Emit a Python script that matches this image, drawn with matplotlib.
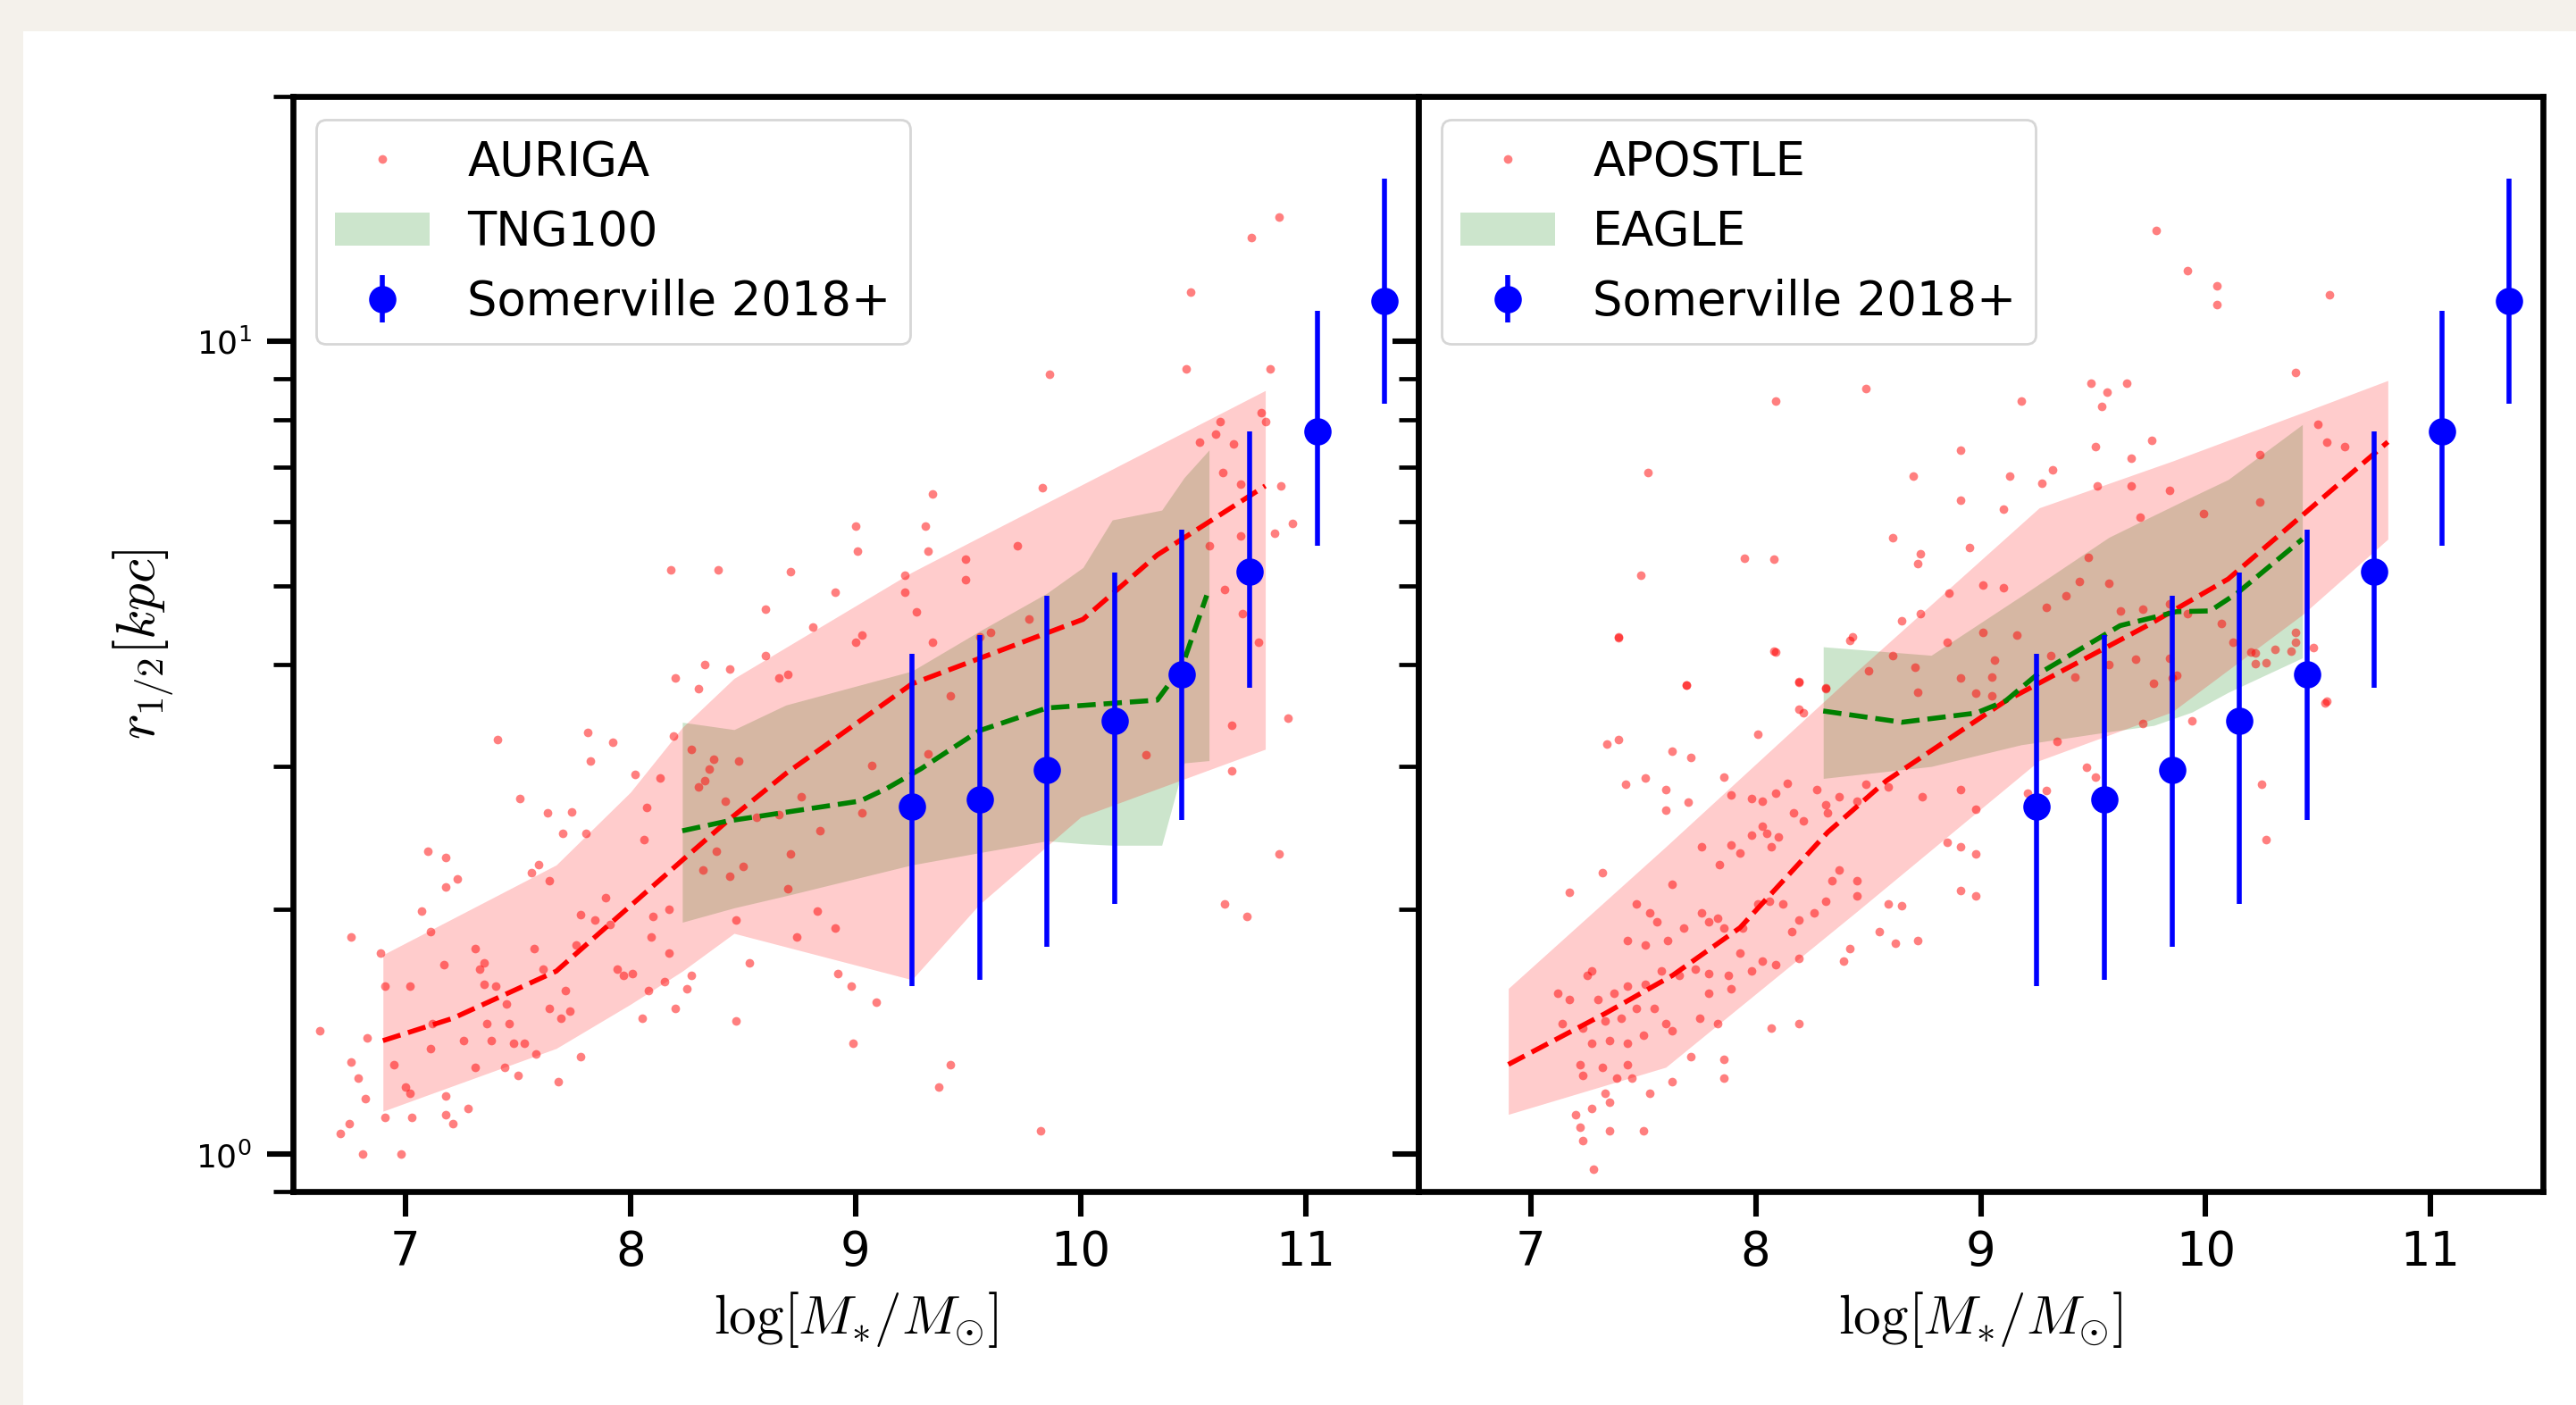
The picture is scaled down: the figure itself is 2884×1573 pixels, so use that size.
import matplotlib
matplotlib.use('Agg')
import matplotlib.pyplot as plt
from matplotlib.patches import Rectangle, Patch
from matplotlib.lines import Line2D

plt.rcParams['font.family'] = ['DejaVu Sans']
plt.rcParams['mathtext.fontset'] = 'cm'

# Somerville 2018+ points (same in both panels)
som_x = [9.25, 9.55, 9.85, 10.15, 10.45, 10.75, 11.05, 11.35]
som_r = [2.68, 2.73, 2.97, 3.41, 3.89, 5.21, 7.74, 11.2]
som_lo = [1.61, 1.64, 1.80, 2.03, 2.58, 3.75, 5.61, 8.38]
som_hi = [4.13, 4.35, 4.86, 5.19, 5.86, 7.74, 10.9, 15.85]

# AURIGA galaxies (left panel)
aur_x = [6.62, 6.76, 6.76, 6.79, 6.81, 6.82, 6.71, 6.75, 6.83, 6.89, 6.91, 6.91, 6.98, 6.95,
         7.00, 7.02, 7.02, 7.03, 7.07, 7.10, 7.11, 7.11, 7.12, 7.17, 7.18, 7.18, 7.18, 7.18,
         7.21, 7.23, 7.26, 7.28, 7.31, 7.31, 7.33, 7.35, 7.35, 7.36, 7.38, 7.40, 7.41, 7.44,
         7.45, 7.46, 7.48, 7.50, 7.51, 7.53, 7.56, 7.57, 7.58, 7.59, 7.61, 7.63, 7.64, 7.64,
         7.68, 7.69, 7.70, 7.71, 7.73, 7.74, 7.76, 7.78, 7.78, 7.80, 7.81, 7.82, 7.84, 7.89,
         7.91, 7.92, 7.94, 7.97, 8.01, 8.02, 8.05, 8.06, 8.07, 8.08, 8.09, 8.10, 8.13, 8.15,
         8.17, 8.19, 8.20, 8.17, 8.25, 8.27, 8.27, 8.30, 8.32, 8.33, 8.35, 8.37, 8.38, 8.42,
         8.44, 8.47, 8.47, 8.48, 8.50, 8.53, 8.56, 8.66, 8.70, 8.71, 8.74, 8.76, 8.83, 8.84,
         8.91, 8.92, 8.98, 8.99, 9.03, 9.07, 9.09, 9.22, 9.32, 9.37, 9.42, 9.42, 9.82, 10.29,
         10.64, 10.67, 10.67, 10.74, 10.88, 10.92,
         10.88, 10.76, 10.49, 9.86, 10.47, 10.84, 9.83, 9.34, 9.00, 9.31, 9.01, 9.32, 9.72,
         10.62, 10.60, 10.68, 10.80, 10.82, 10.53, 10.63, 10.71, 10.89, 10.94, 10.86, 10.71,
         9.49, 9.49, 9.22, 9.22, 8.91, 8.71, 8.60, 9.27, 8.18, 8.39, 8.81, 9.03, 9.00, 9.77,
         9.60, 10.64, 10.72, 10.79, 8.60, 8.33, 8.44, 8.20, 8.30, 8.66, 8.70, 9.34, 9.55, 10.57]
aur_r = [1.42, 1.85, 1.30, 1.24, 1.00, 1.17, 1.06, 1.09, 1.39, 1.77, 1.61, 1.11, 1.00, 1.29,
         1.21, 1.61, 1.19, 1.11, 1.99, 2.36, 1.88, 1.35, 1.45, 1.71, 2.32, 2.13, 1.18, 1.12,
         1.09, 2.18, 1.38, 1.14, 1.28, 1.79, 1.69, 1.62, 1.72, 1.45, 1.38, 1.61, 3.24, 1.28,
         1.53, 1.45, 1.37, 1.25, 2.74, 1.37, 2.22, 1.79, 1.33, 2.27, 1.69, 2.63, 1.51, 2.17,
         1.23, 1.47, 2.48, 1.59, 1.50, 2.64, 1.81, 1.32, 1.97, 2.48, 3.30, 3.05, 1.94, 2.07,
         1.92, 3.21, 1.69, 1.66, 1.67, 2.93, 1.47, 2.44, 2.67, 1.59, 1.85, 1.96, 2.90, 1.63,
         2.00, 3.27, 1.51, 1.77, 1.60, 1.66, 3.15, 2.83, 2.24, 2.88, 2.98, 3.06, 2.36, 2.72,
         2.20, 1.46, 1.94, 3.05, 2.26, 1.72, 2.60, 2.62, 2.12, 2.34, 1.85, 2.75, 1.99, 2.50,
         1.90, 1.67, 1.61, 1.37, 2.63, 3.01, 1.54, 2.63, 3.11, 1.21, 1.29, 3.66, 1.07, 3.10,
         2.03, 3.37, 2.96, 1.96, 2.34, 3.44,
         14.2, 13.4, 11.5, 9.10, 9.25, 9.25, 6.61, 6.49, 5.93, 5.93, 5.52, 5.52, 5.61,
         7.96, 7.69, 7.48, 8.18, 7.96, 7.52, 6.90, 6.68, 6.64, 5.97, 5.80, 5.77,
         5.39, 5.09, 5.15, 4.92, 4.92, 5.21, 4.68, 4.65, 5.24, 5.24, 4.45, 4.35, 4.26, 4.55,
         4.38, 4.95, 4.63, 4.26, 4.11, 4.00, 3.95, 3.85, 3.74, 3.85, 3.89, 4.26, 4.33, 5.61]

# AURIGA 1-sigma band and median
aur_bx = [6.9, 7.67, 8.0, 8.23, 8.46, 9.25, 9.55, 10.0, 10.82]
aur_blo = [1.13, 1.35, 1.53, 1.68, 1.87, 1.64, 2.03, 2.60, 3.15]
aur_bhi = [1.76, 2.27, 2.79, 3.35, 3.85, 5.20, 5.74, 6.65, 8.70]
aur_mx = [6.9, 7.21, 7.67, 7.87, 8.23, 8.43, 8.69, 9.25, 10.01, 10.34, 10.82]
aur_mr = [1.38, 1.47, 1.68, 1.88, 2.30, 2.57, 2.94, 3.79, 4.55, 5.46, 6.64]

# TNG100 band and median
tng_bx = [8.23, 8.46, 8.69, 9.25, 9.55, 9.85, 10.01, 10.14, 10.36, 10.46, 10.57]
tng_blo = [1.93, 2.01, 2.08, 2.27, 2.35, 2.43, 2.41, 2.40, 2.40, 3.03, 3.05]
tng_bhi = [3.40, 3.33, 3.57, 3.93, 4.40, 4.90, 5.27, 6.03, 6.20, 6.80, 7.35]
tng_mx = [8.23, 8.43, 9.02, 9.14, 9.29, 9.55, 9.85, 10.34, 10.45, 10.56]
tng_mr = [2.50, 2.57, 2.72, 2.82, 2.98, 3.32, 3.54, 3.62, 3.98, 4.87]

# APOSTLE galaxies (right panel)
apo_x = [7.39, 8.09, 7.69, 8.19, 8.31, 8.42, 7.39, 7.34, 7.42, 7.51, 7.60, 7.63, 7.71, 7.60,
         7.70, 8.01, 7.86, 7.89, 7.98, 8.03, 8.09, 8.14, 8.19, 8.21, 8.27, 8.31, 8.32, 8.37,
         8.45, 8.49, 8.59, 8.74, 8.91, 8.98, 8.17, 8.21, 8.03, 7.98, 8.05, 8.10, 8.07, 7.89,
         7.93, 7.84, 7.76, 7.63, 7.32, 7.17, 7.47, 7.53, 7.56, 7.43, 7.51, 7.61, 7.68, 7.76,
         7.79, 7.83, 7.86, 7.94, 8.01, 8.06, 8.12, 8.19, 8.16, 8.26, 8.31, 8.34, 8.37, 8.45,
         8.45, 8.59, 8.65, 8.91, 8.98, 8.85, 8.91, 8.98, 8.55, 8.62, 8.72, 8.42, 8.39, 8.19,
         8.09, 8.03, 7.98, 7.93, 7.88, 7.79, 7.73, 7.66, 7.58, 7.51, 7.43, 7.37, 7.30, 7.27,
         7.25, 7.17, 7.12, 7.14, 7.23, 7.33, 7.40, 7.47, 7.55, 7.60, 7.63, 7.50, 7.43, 7.35,
         7.27, 7.22, 7.23, 7.32, 7.38, 7.33, 7.45, 7.53, 7.43, 7.35, 7.27, 7.20, 7.22, 7.23,
         7.35, 7.50, 7.28, 7.63, 7.86, 7.86, 7.75, 7.71, 8.07, 8.19, 7.83, 7.89, 7.79,
         8.98, 9.05, 9.21, 9.29, 9.34, 9.47, 9.51, 9.72, 9.84, 9.87, 9.94, 10.25, 10.27, 10.53,
         10.20, 10.31, 10.22, 10.40, 10.48,
         9.78, 9.92, 10.05, 10.05, 10.55, 10.40, 9.49, 9.56, 9.65, 9.54, 8.49, 8.09, 9.18, 7.52,
         8.91, 8.70, 9.13, 9.32, 9.27, 9.67, 9.76, 9.51, 10.24, 10.50, 10.54, 10.62, 9.84, 9.67,
         9.52, 8.91, 9.10, 8.61, 7.95, 8.08, 8.73, 8.95, 8.72, 9.48, 7.49, 9.71, 9.99, 10.24,
         9.84, 9.01, 9.10, 8.86, 8.73, 8.65, 9.57, 9.44, 9.38, 9.29, 9.62, 9.72, 9.92, 10.07,
         10.22, 10.27, 10.38, 10.40, 10.12, 8.43, 8.08, 7.39, 8.61, 8.85, 9.01, 9.06, 9.16, 9.31,
         9.42, 9.57, 9.69, 9.77, 9.85, 8.91, 8.71, 7.69, 8.19, 8.31, 8.50, 8.72, 9.05, 10.54]
apo_r = [4.32, 4.15, 3.78, 3.81, 3.75, 4.29, 3.24, 3.20, 2.85, 2.90, 2.81, 3.13, 3.08, 2.65,
         2.71, 3.29, 2.91, 2.77, 2.74, 2.72, 2.78, 2.86, 3.53, 3.49, 2.81, 2.69, 2.63, 2.75,
         2.72, 2.85, 2.83, 2.75, 2.81, 2.66, 2.63, 2.57, 2.53, 2.47, 2.48, 2.46, 2.39, 2.40,
         2.35, 2.27, 2.39, 2.15, 2.22, 2.10, 2.03, 1.98, 1.93, 1.83, 1.81, 1.83, 1.90, 1.98,
         1.93, 1.95, 1.90, 1.90, 2.03, 2.05, 2.03, 1.94, 1.88, 1.98, 2.05, 2.17, 2.24, 2.08,
         2.17, 2.03, 2.02, 2.11, 2.08, 2.42, 2.39, 2.34, 1.88, 1.82, 1.83, 1.79, 1.73, 1.74,
         1.71, 1.73, 1.68, 1.77, 1.66, 1.67, 1.69, 1.66, 1.68, 1.62, 1.61, 1.58, 1.55, 1.68,
         1.66, 1.55, 1.58, 1.45, 1.43, 1.46, 1.47, 1.51, 1.51, 1.45, 1.42, 1.40, 1.37, 1.38,
         1.37, 1.29, 1.25, 1.28, 1.24, 1.19, 1.24, 1.19, 1.29, 1.16, 1.14, 1.12, 1.08, 1.04,
         1.07, 1.07, 0.96, 1.23, 1.31, 1.24, 1.47, 1.32, 1.43, 1.45, 1.45, 1.60, 1.58,
         3.69, 3.86, 2.78, 2.80, 3.22, 2.99, 2.91, 3.39, 4.08, 3.88, 3.41, 2.85, 2.44, 3.59,
         4.15, 4.18, 4.01, 4.27, 4.20,
         13.7, 12.2, 11.7, 11.1, 11.4, 9.16, 8.89, 8.65, 8.89, 8.32, 8.75, 8.45, 8.45, 6.89,
         7.35, 6.82, 6.82, 6.95, 6.69, 7.18, 7.55, 7.43, 7.26, 7.91, 7.52, 7.43, 6.56, 6.64,
         6.64, 6.38, 6.21, 5.74, 5.41, 5.39, 5.48, 5.57, 5.33, 5.42, 5.15, 6.07, 6.14, 6.35,
         4.76, 5.01, 4.98, 4.90, 4.63, 4.53, 5.04, 5.07, 4.87, 4.71, 4.66, 4.68, 4.63, 4.50,
         4.14, 4.02, 4.16, 4.38, 4.26, 4.33, 4.16, 4.33, 4.11, 4.26, 4.38, 4.05, 4.35, 4.11,
         3.86, 4.00, 4.06, 3.80, 3.85, 3.85, 3.97, 3.78, 3.82, 3.74, 3.93, 3.70, 3.66, 3.61]

# APOSTLE band and median
apo_bx = [6.9, 7.6, 8.45, 9.26, 9.85, 10.43, 10.81]
apo_blo = [1.12, 1.28, 1.99, 3.05, 3.50, 4.61, 5.71]
apo_bhi = [1.60, 2.39, 3.93, 6.24, 7.12, 8.17, 8.95]
apo_mx = [6.9, 7.33, 7.63, 7.93, 8.32, 8.58, 9.11, 9.74, 10.10, 10.81]
apo_mr = [1.29, 1.49, 1.66, 1.90, 2.49, 2.88, 3.61, 4.47, 5.10, 7.52]

# EAGLE band and median
eag_bx = [8.30, 8.78, 9.18, 9.57, 9.77, 9.94, 10.10, 10.43]
eag_blo = [2.90, 3.00, 3.19, 3.31, 3.37, 3.50, 3.70, 4.08]
eag_bhi = [4.21, 4.11, 4.86, 5.74, 6.11, 6.44, 6.76, 7.90]
eag_mx = [8.30, 8.65, 8.98, 9.11, 9.25, 9.62, 9.87, 10.02, 10.14, 10.43]
eag_mr = [3.51, 3.40, 3.49, 3.61, 3.89, 4.47, 4.65, 4.66, 4.90, 5.71]

x_ticks = [7, 8, 9, 10, 11]


def draw_panel(ax, sx, sr, bx, blo, bhi, mx, mr, gx, glo, ghi, gmx, gmr, names):
    ax.fill_between(gx, glo, ghi, color='green', alpha=0.2, lw=0)
    ax.fill_between(bx, blo, bhi, color='red', alpha=0.2, lw=0)
    ax.plot(sx, sr, 'o', color='red', ms=3.5, alpha=0.5, mew=0)
    ax.plot(mx, mr, '--', color='red', lw=2)
    ax.plot(gmx, gmr, '--', color='green', lw=2)
    yerr = [[r - lo for r, lo in zip(som_r, som_lo)],
            [hi - r for r, hi in zip(som_r, som_hi)]]
    ax.errorbar(som_x, som_r, yerr=yerr, fmt='o', color='b', ms=10,
                elinewidth=2, capsize=0)

    handles = [Line2D([], [], ls='none', marker='o', color='red', ms=3.5, alpha=0.5, mew=0),
               Patch(facecolor='green', alpha=0.2, lw=0),
               ax.containers[0]]
    ax.legend(handles, names, loc='upper left', fontsize=19)

    ax.set_xlim(6.5, 11.5)
    ax.set_xticks(x_ticks)
    ax.set_xlabel(r'$\mathrm{log}[M_{*}/M_{\odot}]$', fontsize=22, labelpad=6)
    ax.tick_params(axis='x', which='major', length=10, width=2.2, labelsize=19, pad=5)
    ax.tick_params(axis='y', which='major', length=10.5, width=2.2, labelsize=13, pad=6)
    ax.tick_params(axis='y', which='minor', length=8, width=1.7)
    for sp in ax.spines.values():
        sp.set_linewidth(2.4)


fig = plt.figure(figsize=(14.42, 7.865), dpi=200)
fig.patch.set_facecolor('#f4f1eb')
fig.add_artist(Rectangle((0.009, 0.0), 0.991, 0.978, transform=fig.transFigure,
                         facecolor='white', edgecolor='none', zorder=-10))

ax1 = fig.add_axes([0.1137, 0.1519, 0.4369, 0.7794])
ax2 = fig.add_axes([0.5506, 0.1519, 0.4366, 0.7794], sharey=ax1)

ax1.set_yscale('log')
ax1.set_ylim(0.9, 20)

draw_panel(ax1, aur_x, aur_r, aur_bx, aur_blo, aur_bhi, aur_mx, aur_mr,
           tng_bx, tng_blo, tng_bhi, tng_mx, tng_mr,
           ['AURIGA', 'TNG100', 'Somerville 2018+'])
draw_panel(ax2, apo_x, apo_r, apo_bx, apo_blo, apo_bhi, apo_mx, apo_mr,
           eag_bx, eag_blo, eag_bhi, eag_mx, eag_mr,
           ['APOSTLE', 'EAGLE', 'Somerville 2018+'])

ax1.set_ylabel(r'$r_{1/2}[kpc]$', fontsize=22, labelpad=8)
ax2.tick_params(axis='y', which='both', labelleft=False)

fig.savefig('out.png', dpi=200, facecolor=fig.get_facecolor())
